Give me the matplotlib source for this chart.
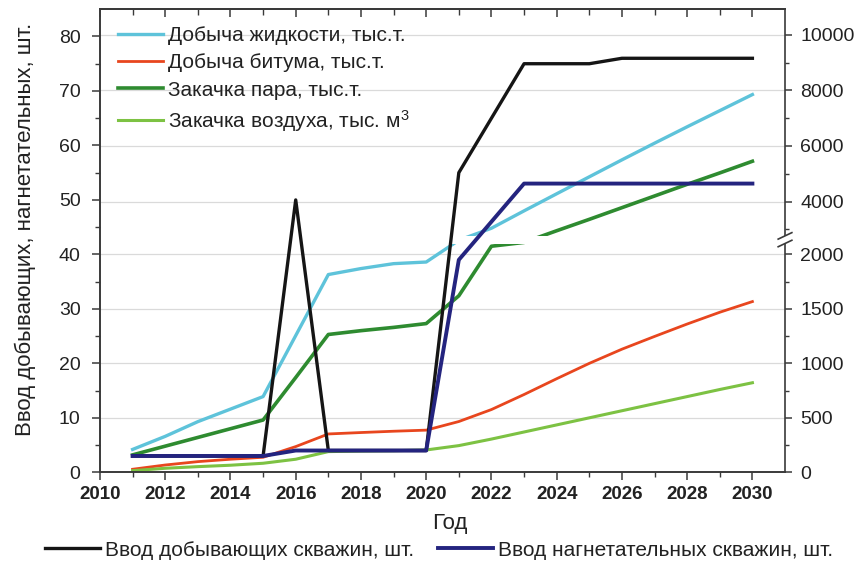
import numpy as np
import matplotlib
matplotlib.use("Agg")
import matplotlib.pyplot as plt
from matplotlib.patches import Rectangle
from matplotlib.lines import Line2D

plt.rcParams['font.family'] = ['Liberation Sans', 'DejaVu Sans']
plt.rcParams['mathtext.default'] = 'regular'

# ---- data -------------------------------------------------------------
years = list(range(2011, 2031))

# wells put into operation, pcs (left axis)
prod_wells = [3, 3, 3, 3, 3, 50, 4, 4, 4, 4, 55, 65, 75, 75, 75, 76, 76, 76, 76, 76]
inj_wells = [3, 3, 3, 3, 3, 4, 4, 4, 4, 4, 39, 46, 53, 53, 53, 53, 53, 53, 53, 53]

# production / injection volumes (right axis, broken)
liquid = [210, 330, 465, 580, 695, 1255, 1815, 1870, 1915, 1930,
          2608, 3040, 3665, 4280, 4890, 5500, 6100, 6690, 7270, 7850]
bitumen = [28, 67, 98, 120, 138, 236, 352, 365, 377, 387,
           466, 576, 714, 859, 1000, 1130, 1247, 1361, 1469, 1567]
steam = [160, 240, 320, 400, 480, 870, 1265, 1300, 1330, 1365,
         1620, 2075, 2530, 2950, 3360, 3780, 4200, 4620, 5030, 5450]
air = [15, 37, 52, 65, 83, 120, 190, 195, 198, 205,
       245, 305, 370, 435, 500, 565, 630, 695, 760, 822]

right_labels = ["Добыча жидкости, тыс.т.", "Добыча битума, тыс.т.",
                "Закачка пара, тыс.т.", "Закачка воздуха, тыс. м$^{\\mathregular{3}}$"]
well_labels = ["Ввод добывающих скважин, шт.", "Ввод нагнетательных скважин, шт."]

left_ticks = [0, 10, 20, 30, 40, 50, 60, 70, 80]
right_ticks = [0, 500, 1000, 1500, 2000, 4000, 6000, 8000, 10000]
right_minor = [250, 750, 1250, 1750, 3000, 5000, 7000, 9000]
x_ticks = list(range(2010, 2031, 2))

# ---- broken right-axis scale -----------------------------------------
YTOP = 85.05          # left-axis upper limit
LOW_PER = 50.0        # right units per left unit below the break
B1 = 2100.0           # last value of the lower segment
UP_REF, UP_REF_L, UP_PER = 4000.0, 49.7, 196.0
B2 = UP_REF + (B1 / LOW_PER - UP_REF_L) * UP_PER
GAP_TOP = 43.4        # top of the hidden band (left units)


def fwd(v):
    v = np.asarray(v, dtype=float)
    lo = v / LOW_PER
    hi = UP_REF_L + (v - UP_REF) / UP_PER
    return np.where(v <= B1, lo, np.where(v >= B2, hi, B1 / LOW_PER))


def inv(L):
    L = np.asarray(L, dtype=float)
    return np.where(L <= B1 / LOW_PER, L * LOW_PER, UP_REF + (L - UP_REF_L) * UP_PER)


# ---- figure -----------------------------------------------------------
fig = plt.figure(figsize=(8.62, 5.61), dpi=100)
fig.patch.set_facecolor('white')
ax1 = fig.add_axes([0.1160, 0.1581, 0.7947, 0.8259])
ax2 = ax1.twinx()
ax1.set_zorder(3)
ax2.set_zorder(2)
ax1.patch.set_visible(False)

ax1.set_xlim(2010, 2031)
ax1.set_ylim(0, YTOP)
ax2.set_yscale('function', functions=(fwd, inv))
ax2.set_ylim(0, float(inv(YTOP)))

AX_COL = '#3a3a3a'
for a in (ax1, ax2):
    for s in a.spines.values():
        s.set_color(AX_COL)
        s.set_linewidth(1.2)
ax1.spines['right'].set_visible(False)

# grid
ax2.grid(axis='y', which='major', color='#dadada', linewidth=0.9)
ax2.set_axisbelow(True)

# right-axis series, drawn twice: below and above the break band
colors = ['#5ec3da', '#e8461e', '#2e8b30', '#7dc243']
widths = [2.4, 2.0, 2.6, 2.2]
series = [liquid, bitumen, steam, air]
low_frac = (B1 / LOW_PER) / YTOP
up_frac = GAP_TOP / YTOP
handles = []
for vals, col, lw, lab in zip(series, colors, widths, right_labels):
    for k, (y0, h) in enumerate([(0.0, low_frac), (up_frac, 1.0 - up_frac)]):
        ln, = ax2.plot(years, vals, color=col, lw=lw, solid_joinstyle='round',
                       label=lab if k == 0 else None)
        clip = Rectangle((0, y0), 1, h, transform=ax2.transAxes)
        ln.set_clip_path(clip)
        if k == 0:
            handles.append(ln)

# wells (left axis)
h_prod, = ax1.plot(years, prod_wells, color='#151515', lw=2.4)
h_inj, = ax1.plot(years, inj_wells, color='#24247f', lw=2.8)

# ticks
ax1.set_yticks(left_ticks)
ax1.set_yticks([5, 15, 25, 35, 45, 55, 65, 75], minor=True)
ax1.set_xticks(x_ticks)
ax1.set_xticks(list(range(2011, 2031, 2)), minor=True)
ax1.tick_params(axis='y', which='major', direction='out', length=6, width=1.1,
                color=AX_COL, labelsize=14, labelcolor='#222222', pad=8)
ax1.tick_params(axis='y', which='minor', direction='out', length=3.5, width=1.0,
                color=AX_COL)
ax1.tick_params(axis='x', which='major', direction='out', length=6, width=1.1,
                color=AX_COL, labelsize=13.5, labelcolor='#222222', pad=4)
ax1.tick_params(axis='x', which='minor', direction='out', length=3.5, width=1.0,
                color=AX_COL)
for lbl in ax1.get_xticklabels():
    lbl.set_fontweight('bold')

ax2.set_yticks(right_ticks)
ax2.set_yticks(right_minor, minor=True)
ax2.set_yticklabels([str(t) for t in right_ticks])
ax2.tick_params(axis='y', which='major', direction='out', length=5, width=1.1,
                color=AX_COL, labelsize=14, labelcolor='#222222', pad=6)
ax2.tick_params(axis='y', which='minor', direction='out', length=3, width=1.0,
                color=AX_COL)
ax2.yaxis.set_minor_formatter(matplotlib.ticker.NullFormatter())

top = ax1.secondary_xaxis('top')
top.set_xticks(x_ticks)
top.set_xticks(list(range(2011, 2031, 2)), minor=True)
top.tick_params(axis='x', which='major', direction='in', length=6, width=1.1,
                color=AX_COL, labeltop=False)
top.tick_params(axis='x', which='minor', direction='in', length=4, width=1.0,
                color=AX_COL)
top.spines['top'].set_color(AX_COL)
top.spines['top'].set_linewidth(1.2)

# break marks on the right axis
yb_lo, yb_hi = low_frac, up_frac
ax2.add_patch(Rectangle((0.993, yb_lo), 0.02, yb_hi - yb_lo, transform=ax2.transAxes,
                        facecolor='white', edgecolor='none', clip_on=False, zorder=6))
for yc in (yb_lo, yb_hi):
    ax2.add_line(Line2D([0.990, 1.010], [yc - 0.007, yc + 0.007],
                        transform=ax2.transAxes, color=AX_COL, lw=1.2,
                        clip_on=False, zorder=7))

# labels
ax1.set_ylabel("Ввод добывающих, нагнетательных, шт.", fontsize=16, color='#222222')
ax1.yaxis.set_label_coords(-0.093, 0.525)
ax1.set_xlabel("Год", fontsize=16, color='#222222')
ax1.xaxis.set_label_coords(0.511, -0.088)

# legends
fs = 15
fs_px = fs * 100 / 72
ax1.legend(handles, right_labels, loc='upper left',
           bbox_to_anchor=((118 - 100) / 685, (472.3 - 26) / 463.3),
           frameon=False, fontsize=fs, borderpad=0, borderaxespad=0,
           handlelength=45 / fs_px, handletextpad=5 / fs_px, labelspacing=0.40,
           labelcolor='#222222')
fig.legend([h_prod, h_inj], well_labels, loc='center left',
           bbox_to_anchor=(45 / 862, 1 - 550 / 561), ncol=2, frameon=False,
           fontsize=fs, borderpad=0, borderaxespad=0,
           handlelength=55 / fs_px, handletextpad=5 / fs_px,
           columnspacing=24 / fs_px, labelcolor='#222222')

fig.savefig("out.png", dpi=100, facecolor='white')
